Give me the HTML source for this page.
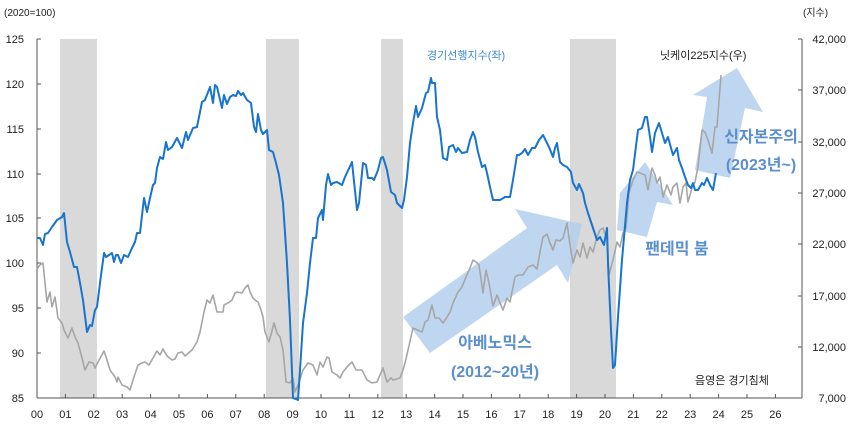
<!DOCTYPE html>
<html><head><meta charset="utf-8"><style>
html,body{margin:0;padding:0;background:#fff;}
svg{display:block;font-family:"Liberation Sans","Noto Sans CJK KR",sans-serif;}
</style></head><body>
<svg width="850" height="426" viewBox="0 0 850 426">
<g fill="#d9d9d9">
<rect x="60" y="39" width="37" height="359"/>
<rect x="266" y="39" width="33" height="359"/>
<rect x="381" y="39" width="22" height="359"/>
<rect x="570" y="39" width="46" height="359"/>
</g>
<g fill="#b4cfee" opacity="0.85">
<polygon points="403,317 527,228 515,209 582,224 568,283 557,265 430,353"/>
<polygon points="620,193 645,162 673,205 657,202 647,237 617,230"/>
<polygon points="695,170 707,97 693,95 737,68 763,112 745,108 730,178"/>
</g>
<!-- axes -->
<g stroke="#555" stroke-width="1" fill="none">
<line x1="37" y1="39" x2="37" y2="398"/>
<line x1="37" y1="398" x2="802" y2="398"/>
<line x1="802" y1="39" x2="802" y2="398"/>
</g>
<g stroke="#555" stroke-width="1">
<line x1="37" y1="39" x2="41" y2="39"/><line x1="37" y1="84" x2="41" y2="84"/><line x1="37" y1="129" x2="41" y2="129"/><line x1="37" y1="174" x2="41" y2="174"/><line x1="37" y1="218" x2="41" y2="218"/><line x1="37" y1="263" x2="41" y2="263"/><line x1="37" y1="308" x2="41" y2="308"/><line x1="37" y1="353" x2="41" y2="353"/>
<line x1="798" y1="39" x2="802" y2="39"/><line x1="798" y1="90" x2="802" y2="90"/><line x1="798" y1="142" x2="802" y2="142"/><line x1="798" y1="193" x2="802" y2="193"/><line x1="798" y1="244" x2="802" y2="244"/><line x1="798" y1="296" x2="802" y2="296"/><line x1="798" y1="347" x2="802" y2="347"/>
</g>
<g stroke="#555" stroke-width="1" id="xt">
<line x1="65.4" y1="398" x2="65.4" y2="394"/><line x1="93.8" y1="398" x2="93.8" y2="394"/><line x1="122.2" y1="398" x2="122.2" y2="394"/><line x1="150.6" y1="398" x2="150.6" y2="394"/><line x1="179" y1="398" x2="179" y2="394"/><line x1="207.4" y1="398" x2="207.4" y2="394"/><line x1="235.8" y1="398" x2="235.8" y2="394"/><line x1="264.2" y1="398" x2="264.2" y2="394"/><line x1="292.6" y1="398" x2="292.6" y2="394"/><line x1="321" y1="398" x2="321" y2="394"/><line x1="349.4" y1="398" x2="349.4" y2="394"/><line x1="377.8" y1="398" x2="377.8" y2="394"/><line x1="406.2" y1="398" x2="406.2" y2="394"/><line x1="434.6" y1="398" x2="434.6" y2="394"/><line x1="463" y1="398" x2="463" y2="394"/><line x1="491.4" y1="398" x2="491.4" y2="394"/><line x1="519.8" y1="398" x2="519.8" y2="394"/><line x1="548.2" y1="398" x2="548.2" y2="394"/><line x1="576.6" y1="398" x2="576.6" y2="394"/><line x1="605" y1="398" x2="605" y2="394"/><line x1="633.4" y1="398" x2="633.4" y2="394"/><line x1="661.8" y1="398" x2="661.8" y2="394"/><line x1="690.2" y1="398" x2="690.2" y2="394"/><line x1="718.6" y1="398" x2="718.6" y2="394"/><line x1="747" y1="398" x2="747" y2="394"/><line x1="775.4" y1="398" x2="775.4" y2="394"/>
</g>
<g font-size="11" fill="#222" text-anchor="end">
<text x="24" y="43">125</text><text x="24" y="88">120</text><text x="24" y="133">115</text><text x="24" y="178">110</text><text x="24" y="222">105</text><text x="24" y="267">100</text><text x="24" y="312">95</text><text x="24" y="357">90</text><text x="24" y="402">85</text>
</g>
<g font-size="11" fill="#222" text-anchor="end">
<text x="846" y="43">42,000</text><text x="846" y="94">37,000</text><text x="846" y="146">32,000</text><text x="846" y="197">27,000</text><text x="846" y="248">22,000</text><text x="846" y="300">17,000</text><text x="846" y="351">12,000</text><text x="846" y="402">7,000</text>
</g>
<g font-size="11" fill="#222" text-anchor="middle">
<text x="37" y="418">00</text><text x="65.4" y="418">01</text><text x="93.8" y="418">02</text><text x="122.2" y="418">03</text><text x="150.6" y="418">04</text><text x="179" y="418">05</text><text x="207.4" y="418">06</text><text x="235.8" y="418">07</text><text x="264.2" y="418">08</text><text x="292.6" y="418">09</text><text x="321" y="418">10</text><text x="349.4" y="418">11</text><text x="377.8" y="418">12</text><text x="406.2" y="418">13</text><text x="434.6" y="418">14</text><text x="463" y="418">15</text><text x="491.4" y="418">16</text><text x="519.8" y="418">17</text><text x="548.2" y="418">18</text><text x="576.6" y="418">19</text><text x="605" y="418">20</text><text x="633.4" y="418">21</text><text x="661.8" y="418">22</text><text x="690.2" y="418">23</text><text x="718.6" y="418">24</text><text x="747" y="418">25</text><text x="775.4" y="418">26</text>
</g>
<text x="4" y="16" font-size="10" fill="#222">(2020=100)</text>
<text x="803" y="16" font-size="10" fill="#222">(지수)</text>
<!-- gray Nikkei -->
<polyline fill="none" stroke="#a6a6a6" stroke-width="1.6" stroke-linejoin="round" points="37,269 40,265 43,263 45,283 47,302 50,292 52,307 55,297 58,318 62,323 64,330 68,338 72,328 75,337 78,343 82,358 85,370 89,362 93,363 95,368 98,362 104,351 107,360 110,370 115,377 117,382 118,377 122,385 127,387 130,390 133,380 138,365 142,363 145,362 149,365 153,358 157,351 160,355 163,349 167,356 172,360 175,359 178,353 182,352 185,356 192,350 197,342 200,332 204,312 207,300 210,303 213,295 217,312 223,312 224,305 228,303 232,300 235,293 237,292 242,293 245,288 248,285 250,292 253,298 255,300 258,302 261,310 263,317 265,332 269,342 273,327 274,323 277,333 280,337 283,350 286,382 290,383 293,378 295,392 298,385 303,370 308,363 313,365 317,375 320,362 323,367 327,357 329,358 332,372 337,375 340,378 343,372 347,367 352,362 356,370 362,370 367,380 372,383 377,382 383,368 387,382 391,378 393,380 400,378 403,370 405,363 408,350 413,328 422,332 425,322 428,320 432,305 435,318 439,318 443,323 447,317 450,312 453,303 458,292 462,287 466,277 470,268 473,260 476,262 479,265 483,293 486,270 489,283 493,306 497,295 500,303 503,310 507,298 510,302 515,277 518,275 523,275 528,267 533,265 537,269 540,252 543,237 547,234 550,243 553,250 556,240 560,241 563,238 567,223 570,245 573,263 577,250 580,257 583,243 587,258 590,247 593,252 597,237 600,230 603,228 607,240 609,275 613,260 617,242 620,247 623,233 626,228 629,193 633,180 637,172 640,173 645,175 648,190 652,168 655,175 657,183 660,177 663,197 667,185 671,195 673,187 677,183 680,203 683,187 686,183 688,202 692,188 695,182 698,167 702,130 705,132 708,140 712,153 715,127 717,127 721,75"/>
<!-- blue leading index -->
<polyline fill="none" stroke="#1874cd" stroke-width="2" stroke-linejoin="round" points="37,238 40,238 43,245 45,234 48,233 52,227 57,220 62,217 64,213 67,242 70,252 74,267 77,267 80,283 83,300 87,332 90,325 92,326 95,310 97,307 100,283 104,253 106,257 109,255 112,253 114,262 116,255 118,255 121,263 124,255 128,257 132,248 135,242 137,233 140,233 144,198 147,212 150,198 153,185 155,183 157,168 160,157 163,159 166,142 168,150 172,147 177,138 182,148 186,132 188,140 193,128 197,127 202,102 205,100 210,87 213,103 215,85 217,87 222,108 224,95 227,104 230,97 233,95 236,96 238,91 241,95 243,93 247,100 251,103 254,127 256,132 258,114 261,130 263,134 267,130 269,150 273,152 276,163 279,175 283,203 287,263 290,320 293,398 298,400 300,370 303,323 307,293 310,263 313,238 316,238 318,218 322,210 323,220 326,185 328,174 331,185 333,183 337,182 342,185 345,177 352,162 357,210 359,203 363,163 366,165 368,178 372,178 374,180 378,170 381,158 383,157 387,170 391,192 395,195 397,203 402,208 404,200 407,177 410,143 413,123 416,106 418,117 422,108 426,93 428,92 431,78 432,83 435,83 437,117 440,130 443,158 447,160 449,147 453,145 456,152 458,148 462,153 467,152 470,140 473,132 475,137 478,152 482,167 485,165 487,173 490,187 493,200 500,200 505,197 510,197 513,180 517,155 519,155 522,153 525,149 528,155 532,148 535,148 539,140 543,135 547,143 549,147 553,157 555,148 557,143 560,162 563,165 567,167 571,172 573,183 577,190 579,184 583,193 585,203 588,213 593,228 597,240 600,237 604,245 607,228 608,263 611,330 613,368 615,365 618,317 622,260 627,203 630,180 633,170 638,130 642,128 645,117 647,117 650,137 652,152 655,133 659,123 662,133 665,143 668,137 671,148 673,155 677,148 679,160 682,168 685,177 688,185 691,188 693,183 695,190 698,190 702,183 704,185 707,178 710,185 713,190 716,173"/>
<text x="427" y="59" font-size="11" fill="#3d8ad6">경기선행지수(좌)</text>
<text x="660" y="59" font-size="11" fill="#222">닛케이225지수(우)</text>
<g font-size="16" font-weight="bold" fill="#5b8fcf" text-anchor="middle">
<text x="495" y="348">아베노믹스</text>
<text x="495" y="377">(2012~20년)</text>
<text x="677" y="254">팬데믹 붐</text>
<text x="761" y="142">신자본주의</text>
<text x="761" y="170">(2023년~)</text>
</g>
<text x="695" y="384" font-size="11" fill="#222">음영은 경기침체</text>
</svg>
</body></html>
